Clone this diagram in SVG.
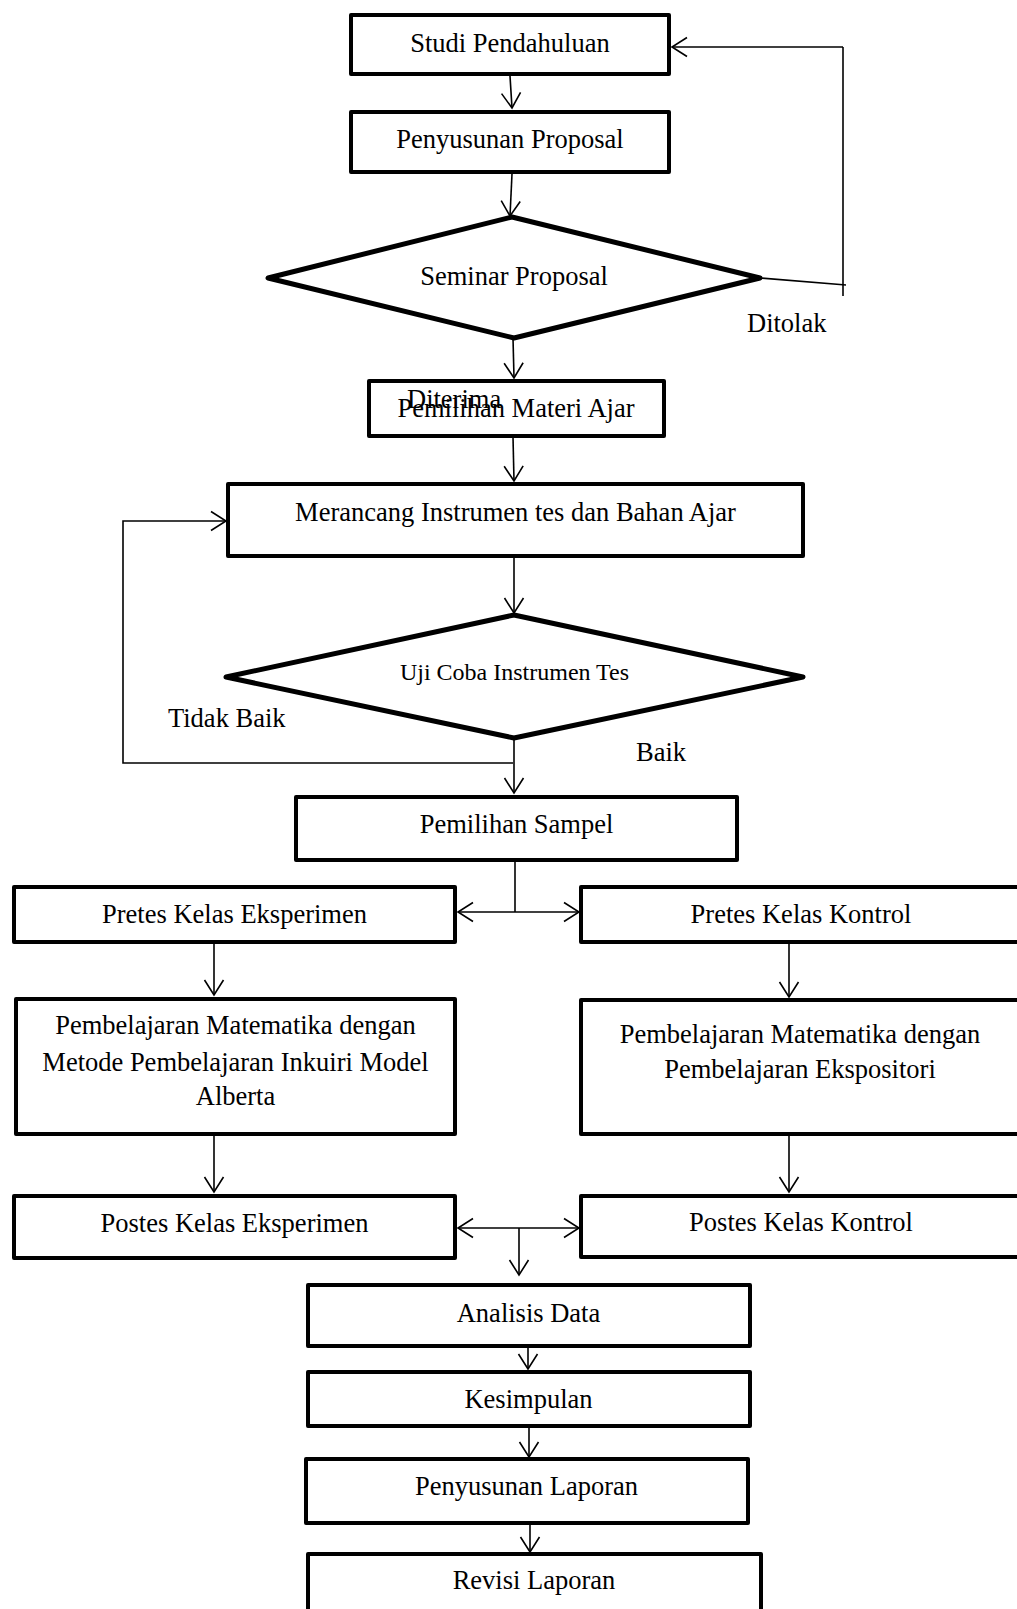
<svg xmlns="http://www.w3.org/2000/svg" width="1017" height="1609" viewBox="0 0 1017 1609">
<style>
  .box { fill: #fff; stroke: #000; stroke-width: 4; stroke-linejoin: round; }
  .dia { fill: #fff; stroke: #000; stroke-width: 5; stroke-linejoin: round; }
  .t { font-family: "Liberation Serif", "Times New Roman", serif; font-size: 26.5px; fill: #000; }
  .m { text-anchor: middle; }
  .c line, .c polyline { stroke: #000; stroke-width: 1.6; fill: none; }
  .a { marker-end: url(#arr); }
  .aa { marker-end: url(#arr); marker-start: url(#arr); }
</style>
<defs>
  <marker id="arr" markerUnits="userSpaceOnUse" markerWidth="24" markerHeight="24" viewBox="-18 -12 20 24" refX="0" refY="0" orient="auto-start-reverse">
    <path d="M-15,-9.5 L0,0 L-15,9.5" fill="none" stroke="#000" stroke-width="1.6"/>
  </marker>
</defs>
<rect width="1017" height="1609" fill="#fff"/>

<g id="connectors" class="c">
  <line class="a" x1="510" y1="76" x2="512" y2="108"/>
  <line class="a" x1="512" y1="174" x2="510" y2="216"/>
  <line x1="760" y1="278" x2="846" y2="285"/>
  <line x1="843" y1="296" x2="843" y2="47"/>
  <line class="a" x1="843" y1="47" x2="672" y2="47"/>
  <line class="a" x1="513" y1="338" x2="514" y2="378"/>
  <line class="a" x1="513" y1="437" x2="514" y2="481"/>
  <line class="a" x1="514" y1="552" x2="514" y2="613"/>
  <polyline class="a" points="513,763 123,763 123,521 226,521"/>
  <line class="a" x1="514" y1="738" x2="514" y2="793"/>
  <line x1="515" y1="862" x2="515" y2="912"/>
  <line class="aa" x1="458" y1="912" x2="579" y2="912"/>
  <line class="a" x1="214" y1="944" x2="214" y2="995"/>
  <line class="a" x1="789" y1="944" x2="789" y2="997"/>
  <line class="a" x1="214" y1="1136" x2="214" y2="1192"/>
  <line class="a" x1="789" y1="1136" x2="789" y2="1192"/>
  <line class="aa" x1="458" y1="1228" x2="579" y2="1228"/>
  <line class="a" x1="519" y1="1228" x2="519" y2="1275"/>
  <line class="a" x1="528" y1="1348" x2="528" y2="1369"/>
  <line class="a" x1="529" y1="1428" x2="529" y2="1457"/>
  <line class="a" x1="530" y1="1516" x2="530" y2="1552"/>
</g>

<g id="studi-pendahuluan">
  <rect class="box" x="351" y="15" width="318" height="59"/>
  <text class="t m" x="510" y="52">Studi Pendahuluan</text>
</g>
<g id="penyusunan-proposal">
  <rect class="box" x="351" y="112" width="318" height="60"/>
  <text class="t m" x="510" y="148">Penyusunan Proposal</text>
</g>
<g id="seminar-proposal">
  <polygon class="dia" points="512,217 760,278 514,338 268,278"/>
  <text class="t m" x="514" y="285">Seminar Proposal</text>
</g>
<g id="label-ditolak">
  <text class="t" x="747" y="332">Ditolak</text>
</g>
<g id="pemilihan-materi-ajar">
  <rect class="box" x="369" y="381" width="295" height="55"/>
  <text class="t m" x="516" y="417">Pemilihan Materi Ajar</text>
</g>
<g id="label-diterima">
  <text class="t" x="407" y="408">Diterima</text>
</g>
<g id="merancang">
  <rect class="box" x="228" y="484" width="575" height="72"/>
  <text class="t m" x="515.5" y="521">Merancang Instrumen tes dan Bahan Ajar</text>
</g>
<g id="uji-coba">
  <polygon class="dia" points="514,615 803,677 514,738 226,677"/>
  <text class="t m" x="514.5" y="680" style="font-size:24px">Uji Coba Instrumen Tes</text>
</g>
<g id="label-tidak-baik">
  <text class="t" x="168" y="727">Tidak Baik</text>
</g>
<g id="label-baik">
  <text class="t" x="636" y="761">Baik</text>
</g>
<g id="pemilihan-sampel">
  <rect class="box" x="296" y="797" width="441" height="63"/>
  <text class="t m" x="516.5" y="833">Pemilihan Sampel</text>
</g>
<g id="pretes-eksperimen">
  <rect class="box" x="14" y="887" width="441" height="55"/>
  <text class="t m" x="234.5" y="923">Pretes Kelas Eksperimen</text>
</g>
<g id="pretes-kontrol">
  <rect class="box" x="581" y="887" width="460" height="55"/>
  <text class="t m" x="801" y="923">Pretes Kelas Kontrol</text>
</g>
<g id="pembelajaran-inkuiri">
  <rect class="box" x="16" y="999" width="439" height="135"/>
  <text class="t m" x="235.5" y="1034">Pembelajaran Matematika dengan</text>
  <text class="t m" x="235.5" y="1071">Metode Pembelajaran Inkuiri Model</text>
  <text class="t m" x="235.5" y="1105">Alberta</text>
</g>
<g id="pembelajaran-ekspositori">
  <rect class="box" x="581" y="1000" width="460" height="134"/>
  <text class="t m" x="800" y="1043">Pembelajaran Matematika dengan</text>
  <text class="t m" x="800" y="1078">Pembelajaran Ekspositori</text>
</g>
<g id="postes-eksperimen">
  <rect class="box" x="14" y="1196" width="441" height="62"/>
  <text class="t m" x="234.5" y="1232">Postes Kelas Eksperimen</text>
</g>
<g id="postes-kontrol">
  <rect class="box" x="581" y="1196" width="460" height="61"/>
  <text class="t m" x="801" y="1231">Postes Kelas Kontrol</text>
</g>
<g id="analisis-data">
  <rect class="box" x="308" y="1285" width="442" height="61"/>
  <text class="t m" x="528.5" y="1322">Analisis Data</text>
</g>
<g id="kesimpulan">
  <rect class="box" x="308" y="1372" width="442" height="54"/>
  <text class="t m" x="528.5" y="1408">Kesimpulan</text>
</g>
<g id="penyusunan-laporan">
  <rect class="box" x="306" y="1459" width="442" height="64"/>
  <text class="t m" x="526.5" y="1495">Penyusunan Laporan</text>
</g>
<g id="revisi-laporan">
  <rect class="box" x="308" y="1554" width="453" height="80"/>
  <text class="t m" x="534" y="1589">Revisi Laporan</text>
</g>
</svg>
